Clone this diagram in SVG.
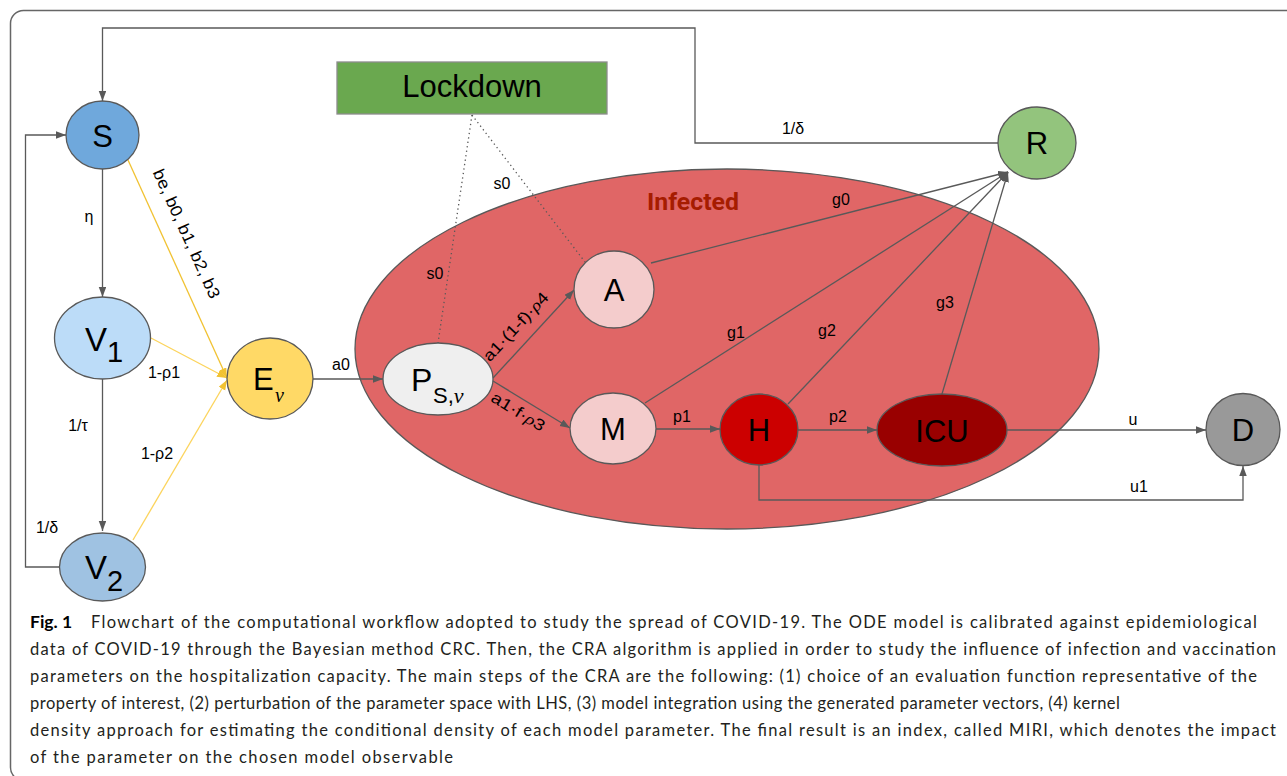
<svg xmlns="http://www.w3.org/2000/svg" width="1287" height="776" viewBox="0 0 1287 776">
<defs>
<style>
.nd{stroke:#595959;stroke-width:1.3}
.ln{fill:none;stroke:#595959;stroke-width:1.3}
.yl{fill:none;stroke:#f1c232;stroke-width:1.3}
.yl2{fill:none;stroke:#fcd45c;stroke-width:1.3}
.dt{fill:none;stroke:#595959;stroke-width:1.3;stroke-dasharray:1.3,3.2}
.nt{font-family:"Liberation Sans",Arial,sans-serif;font-size:31px;fill:#000;text-anchor:middle}
.ns{font-family:"Liberation Sans",Arial,sans-serif;fill:#000}
.lb{font-family:"Liberation Sans",Arial,sans-serif;font-size:16px;fill:#000;text-anchor:middle}
.mt{font-family:"Liberation Serif","DejaVu Serif",serif;font-style:italic}
.cap{font-family:Lato,"Open Sans",sans-serif;font-size:16.5px;fill:#231f20}
</style>
<marker id="ag" markerUnits="userSpaceOnUse" markerWidth="11" markerHeight="8" refX="10" refY="3.75" orient="auto"><path d="M0,0 L10,3.75 L0,7.5 z" fill="#595959"/></marker>
<marker id="ay" markerUnits="userSpaceOnUse" markerWidth="11" markerHeight="8" refX="10" refY="3.75" orient="auto"><path d="M0,0 L10,3.75 L0,7.5 z" fill="#f1c232"/></marker>
</defs>
<rect width="1287" height="776" fill="#fff"/>
<rect x="10.5" y="10.5" width="1300" height="770" rx="13" fill="none" stroke="#666" stroke-width="1.5"/>

<g id="infected">
<ellipse cx="727" cy="349" rx="372" ry="180" fill="#e06666" stroke="#595959" stroke-width="1.3"/>
<text x="693" y="210" font-family="Roboto,'Liberation Sans',sans-serif" font-weight="bold" font-size="23" fill="#a61c00" text-anchor="middle" textLength="92" lengthAdjust="spacingAndGlyphs">Infected</text>
</g>

<g id="connectors">
<path class="ln" d="M998,143 H695 V28 H102.5 V101" marker-end="url(#ag)"/>
<path class="ln" d="M59,567 H25.5 V135 H66" marker-end="url(#ag)"/>
<path class="ln" d="M102.5,169 V297" marker-end="url(#ag)"/>
<path class="ln" d="M102.5,379 V531" marker-end="url(#ag)"/>
<path class="yl" d="M128,160 L227,378" marker-end="url(#ay)"/>
<path class="yl2" d="M151,338 L227,378" marker-end="url(#ay)"/>
<path class="yl2" d="M133,540 L227,380" marker-end="url(#ay)"/>
<path class="ln" d="M313,379 H383" marker-end="url(#ag)"/>
<path class="ln" d="M493,378 L574,290" marker-end="url(#ag)"/>
<path class="ln" d="M493,381 L570,428" marker-end="url(#ag)"/>
<path class="ln" d="M651,263 L1008,172" marker-end="url(#ag)"/>
<path class="ln" d="M645,403 L1008,172" marker-end="url(#ag)"/>
<path class="ln" d="M788,404 L1008,172" marker-end="url(#ag)"/>
<path class="ln" d="M942,394 L1008,172" marker-end="url(#ag)"/>
<path class="ln" d="M656,429 H720" marker-end="url(#ag)"/>
<path class="ln" d="M798,430 H877" marker-end="url(#ag)"/>
<path class="ln" d="M1007,430 H1206" marker-end="url(#ag)"/>
<path class="ln" d="M759,465 V500 H1243 V466" marker-end="url(#ag)"/>
<path class="dt" d="M472,115 L438,343"/>
<path class="dt" d="M472,115 L585,262"/>
<g class="lb">
<text x="89" y="222">η</text>
<text x="78" y="431">1/τ</text>
<text x="47" y="533">1/δ</text>
<text x="164" y="378">1-ρ1</text>
<text x="157" y="459">1-ρ2</text>
<text x="341" y="370">a0</text>
<text x="793" y="134">1/δ</text>
<text x="841" y="205">g0</text>
<text x="736" y="338">g1</text>
<text x="827" y="336">g2</text>
<text x="945" y="308">g3</text>
<text x="682" y="422">p1</text>
<text x="838" y="422">p2</text>
<text x="1133" y="425">u</text>
<text x="1139" y="492">u1</text>
<text x="502" y="189">s0</text>
<text x="435" y="279">s0</text>
<text transform="translate(186,234) rotate(65.6)" y="5" font-size="16.5" textLength="140" lengthAdjust="spacingAndGlyphs">be, b0, b1, b2, b3</text>
<text transform="translate(516,327) rotate(-47)" y="5" font-size="16" textLength="88" lengthAdjust="spacingAndGlyphs">a1·(1-f)·<tspan class="mt">ρ</tspan>4</text>
<text transform="translate(518,412) rotate(31.5)" y="5" font-size="16" textLength="60" lengthAdjust="spacingAndGlyphs">a1·f·<tspan class="mt">ρ</tspan>3</text>
</g>
</g>

<g id="lockdown">
<rect x="337" y="62" width="270" height="52" fill="#6aa84f" stroke="#8c8c8c" stroke-width="1.3"/>
<text class="nt" x="472" y="97" font-size="25">Lockdown</text>
</g>
<g id="S"><ellipse class="nd" cx="102.5" cy="135" rx="36.5" ry="34" fill="#6fa8dc"/><text class="nt" x="102.5" y="147" font-size="33">S</text></g>
<g id="V1"><ellipse class="nd" cx="102.5" cy="338" rx="48" ry="41" fill="#bcdcf8"/><text class="ns" x="85" y="351" font-size="33">V</text><text class="ns" x="107" y="362" font-size="29">1</text></g>
<g id="V2"><ellipse class="nd" cx="102.5" cy="567" rx="43" ry="34" fill="#9fc2e2"/><text class="ns" x="85" y="579" font-size="33">V</text><text class="ns" x="107" y="591" font-size="29">2</text></g>
<g id="E"><ellipse class="nd" cx="270" cy="378.5" rx="43" ry="40.5" fill="#ffd966"/><text class="ns" x="253" y="390" font-size="31">E</text><text x="275" y="402" class="mt" font-size="20">ν</text></g>
<g id="P"><ellipse class="nd" cx="438" cy="379" rx="55" ry="36" fill="#efefef"/><text class="ns" x="411" y="391" font-size="32">P</text><text x="433" y="403" class="ns" font-size="22">S,<tspan class="mt" font-size="22">ν</tspan></text></g>
<g id="A"><ellipse class="nd" cx="614" cy="289.5" rx="40" ry="38.5" fill="#f4cccc"/><text class="nt" x="614" y="301" font-size="32">A</text></g>
<g id="M"><ellipse class="nd" cx="613" cy="428.5" rx="43" ry="35.5" fill="#f4cccc"/><text class="nt" x="613" y="440" font-size="32">M</text></g>
<g id="H"><ellipse class="nd" cx="759" cy="429.5" rx="39" ry="35.5" fill="#cc0000"/><text class="nt" x="759" y="441" font-size="32">H</text></g>
<g id="ICU"><ellipse class="nd" cx="942" cy="430" rx="65" ry="36" fill="#990000"/><text class="nt" x="942" y="442" font-size="33">ICU</text></g>
<g id="D"><ellipse class="nd" cx="1243" cy="429.5" rx="37" ry="36" fill="#999999"/><text class="nt" x="1243" y="441" font-size="32">D</text></g>
<g id="R"><ellipse class="nd" cx="1037" cy="143" rx="39" ry="36" fill="#93c47d"/><text class="nt" x="1037" y="154" font-size="30">R</text></g>

<g id="caption" class="cap">
<text x="30" y="628" font-weight="bold" font-size="17.5" fill="#000">Fig. 1</text>
<text x="91" y="628" textLength="1166" lengthAdjust="spacing">Flowchart of the computational workflow adopted to study the spread of COVID-19. The ODE model is calibrated against epidemiological</text>
<text x="30" y="655" textLength="1246" lengthAdjust="spacing">data of COVID-19 through the Bayesian method CRC. Then, the CRA algorithm is applied in order to study the influence of infection and vaccination</text>
<text x="30" y="682" textLength="1227" lengthAdjust="spacing">parameters on the hospitalization capacity. The main steps of the CRA are the following: (1) choice of an evaluation function representative of the</text>
<text x="30" y="709" textLength="1090" lengthAdjust="spacing">property of interest, (2) perturbation of the parameter space with LHS, (3) model integration using the generated parameter vectors, (4) kernel</text>
<text x="30" y="736" textLength="1246" lengthAdjust="spacing">density approach for estimating the conditional density of each model parameter. The final result is an index, called MIRI, which denotes the impact</text>
<text x="30" y="763" textLength="423" lengthAdjust="spacing">of the parameter on the chosen model observable</text>
</g>
</svg>
